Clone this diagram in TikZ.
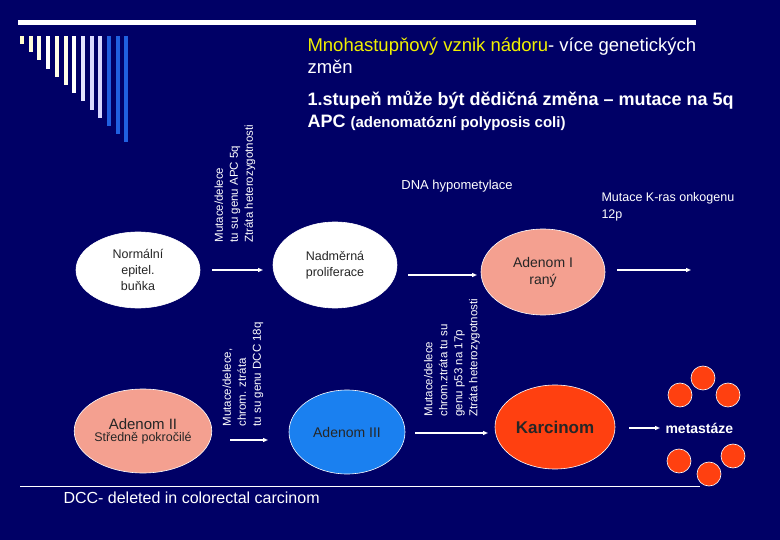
\documentclass[tikz,border=0pt]{standalone}
\usepackage{fontspec}
\setmainfont{Liberation Sans}
\usetikzlibrary{shapes.geometric,arrows.meta}
\definecolor{bg}{HTML}{000066}
\definecolor{pinkc}{HTML}{F4A090}
\definecolor{bluec}{HTML}{1A80F0}
\definecolor{redc}{HTML}{FF4010}
\definecolor{ttl}{HTML}{F0F000}
\definecolor{barb}{HTML}{2060E0}
\begin{document}
\begin{tikzpicture}[x=1pt,y=-1pt,
  cell/.style={ellipse,draw=white,line width=0.6pt,inner sep=0pt,align=center,text=black!85},
  arr/.style={white,line width=1.2pt,-{Triangle[length=5pt,width=4pt]}},
  vtxt/.style={rotate=90,anchor=west,align=left,text=white,font=\fontsize{11.5}{15}\selectfont},
  wtxt/.style={text=white,align=left},
  dot/.style={circle,fill=redc,draw=white,line width=0.6pt,minimum size=24pt,inner sep=0pt}]
\fill[bg] (0,0) rectangle (780,540);
\useasboundingbox (0,0) rectangle (780,540);
% top line and bars
\draw[white,line width=5pt] (18,23) -- (696,23);
\foreach \i/\c in {0/yellow!20,1/yellow!15,2/yellow!10,3/white,4/yellow!10,5/yellow!10,6/white,7/blue!10,8/blue!15,9/blue!15,10/barb,11/barb,12/barb}{
  \fill[\c] ({20+8.7*\i},36) rectangle ({24+8.7*\i},{44+8.2*\i});
}
% title
\node[wtxt,anchor=north west,font=\fontsize{18.5}{22}\selectfont] (title) at (304,34)
  {{\color{ttl}Mnohastupňový vznik nádoru}- více genetických\\změn};
\node[wtxt,anchor=north west,font=\bfseries\fontsize{18}{22}\selectfont] (sub) at (304,88)
  {1.stupeň může být dědičná změna – mutace na 5q\\APC {\fontsize{15}{15}\selectfont (adenomatózní polyposis coli)}};
% cells
\node[cell,fill=white,minimum width=124pt,minimum height=76pt,font=\fontsize{12.5}{16}\selectfont] (norm) at (138,270) {Normální\\epitel.\\buňka};
\node[cell,fill=white,minimum width=124pt,minimum height=86pt,font=\fontsize{12.5}{16}\selectfont] (nadm) at (335,265) {Nadměrná\\proliferace};
\node[cell,fill=pinkc,minimum width=124pt,minimum height=86pt,font=\fontsize{14}{17}\selectfont] (ad1) at (543,272) {Adenom I\\raný};
\node[cell,fill=pinkc,minimum width=128pt,minimum height=84pt] (ad2) at (143,431) {{\fontsize{15}{19}\selectfont Adenom II}\\{\fontsize{12.5}{15}\selectfont Středně pokročilé}};
\node[cell,fill=bluec,minimum width=116pt,minimum height=84pt,font=\fontsize{14}{16}\selectfont] (ad3) at (347,432) {Adenom III};
\node[cell,fill=redc,minimum width=120pt,minimum height=84pt,font=\bfseries\fontsize{17}{20}\selectfont] (karc) at (555,427) {Karcinom};
% arrows
\coordinate (a1s) at (212,270); \coordinate (a1e) at (263,270);
\draw[arr] (a1s) -- (a1e);
\coordinate (a2s) at (408,275); \coordinate (a2e) at (477,275);
\draw[arr] (a2s) -- (a2e);
\coordinate (a3s) at (617,270); \coordinate (a3e) at (691,270);
\draw[arr] (a3s) -- (a3e);
\coordinate (a4s) at (230,440); \coordinate (a4e) at (268,440);
\draw[arr] (a4s) -- (a4e);
\coordinate (a5s) at (415,433); \coordinate (a5e) at (488,433);
\draw[arr] (a5s) -- (a5e);
\coordinate (a6s) at (629,428); \coordinate (a6e) at (660,428);
\draw[arr] (a6s) -- (a6e);
% labels
\node[vtxt] (v1) at (235,246) {Mutace/delece\\tu su genu APC 5q\\Ztráta heterozygotnosti};
\node[vtxt] (v2) at (243,430) {Mutace/delece,\\chrom. ztráta\\tu su genu DCC 18q};
\node[vtxt] (v3) at (452,420) {Mutace/delece\\chrom.ztráta tu su\\genu p53 na 17p\\Ztráta heterozygotnosti};
\node[wtxt,font=\fontsize{13}{15}\selectfont] (dna) at (457,186) {DNA hypometylace};
\node[wtxt,anchor=west,font=\fontsize{12.5}{17}\selectfont] (kras) at (598,207) {Mutace K-ras onkogenu\\12p};
\node[wtxt,anchor=west,font=\bfseries\fontsize{14}{16}\selectfont] (meta) at (662,428) {metastáze};
\foreach \p [count=\k] in {(680,395),(703,378),(728,395),(679,461),(709,474),(733,456)}
  \node[dot] (d\k) at \p {};
% bottom
\draw[white,line width=0.7pt] (20,486) -- (700,486);
\node[wtxt,anchor=west,font=\fontsize{16}{18}\selectfont] (dcc) at (60,498) {DCC- deleted in colorectal carcinom};
\end{tikzpicture}
\end{document}
